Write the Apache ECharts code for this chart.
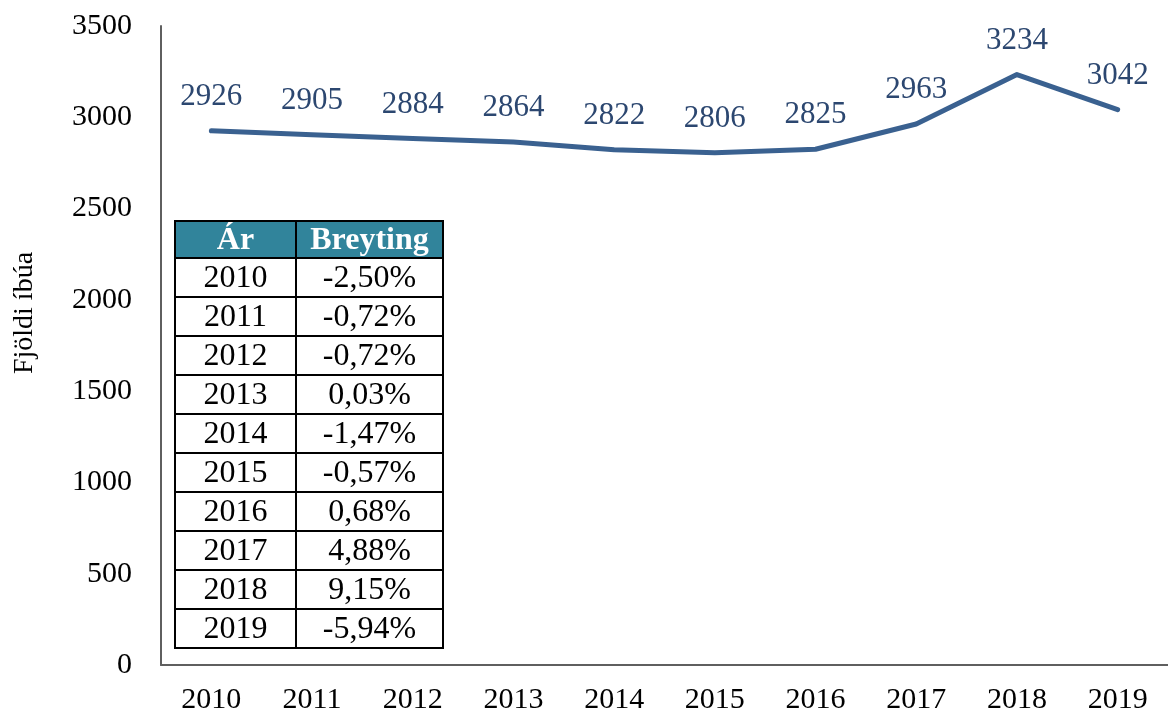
<!DOCTYPE html>
<html>
<head>
<meta charset="utf-8">
<script src="https://cdn.jsdelivr.net/npm/echarts@6/dist/echarts.min.js"></script>
<style>
	html, body { margin: 0; padding: 0; background: #fff; }
	#chart { width: 1168px; height: 717px; }
</style>
</head>
<body>
<div id="chart"></div>
<script>
// gögn
const years = ['2010', '2011', '2012', '2013', '2014', '2015', '2016', '2017', '2018', '2019']
const residents = [2926, 2905, 2884, 2864, 2822, 2806, 2825, 2963, 3234, 3042]
const changes = ['-2,50%', '-0,72%', '-0,72%', '0,03%', '-1,47%', '-0,57%', '0,68%', '4,88%', '9,15%', '-5,94%']
const tableHead = ['Ár', 'Breyting']

const FONT = '"Liberation Serif", "Times New Roman", serif'

var myChart = echarts.init(document.getElementById('chart'))

// tafla ofan á grafinu
const tbl = { x: 175, y: 221, colW: [121, 147], headH: 37, rowH: 39 }
const tableGraphic = []
const totalW = tbl.colW[0] + tbl.colW[1]
const totalH = tbl.headH + tbl.rowH * years.length

tableGraphic.push({
	type: 'rect',
	shape: { x: tbl.x, y: tbl.y, width: totalW, height: tbl.headH },
	style: { fill: '#31849b' },
})
tableHead.forEach(function (h, i) {
	const cx = tbl.x + (i === 0 ? tbl.colW[0] / 2 : tbl.colW[0] + tbl.colW[1] / 2)
	tableGraphic.push({
		type: 'text',
		x: cx,
		y: tbl.y + tbl.headH / 2 + 1,
		style: {
			text: h,
			fill: '#fff',
			font: 'bold 32px ' + FONT,
			textAlign: 'center',
			textVerticalAlign: 'middle',
		},
	})
})
years.forEach(function (yr, r) {
	const cy = tbl.y + tbl.headH + tbl.rowH * r + tbl.rowH / 2 + 1
	;[yr, changes[r]].forEach(function (t, i) {
		tableGraphic.push({
			type: 'text',
			x: tbl.x + (i === 0 ? tbl.colW[0] / 2 : tbl.colW[0] + tbl.colW[1] / 2),
			y: cy,
			style: {
				text: t,
				fill: '#000',
				font: '32px ' + FONT,
				textAlign: 'center',
				textVerticalAlign: 'middle',
			},
		})
	})
	// lína undir hverri línu
	tableGraphic.push({
		type: 'line',
		shape: { x1: tbl.x, y1: tbl.y + tbl.headH + tbl.rowH * r, x2: tbl.x + totalW, y2: tbl.y + tbl.headH + tbl.rowH * r },
		style: { stroke: '#000', lineWidth: 2 },
	})
})
tableGraphic.push({
	type: 'line',
	shape: { x1: tbl.x + tbl.colW[0], y1: tbl.y, x2: tbl.x + tbl.colW[0], y2: tbl.y + totalH },
	style: { stroke: '#000', lineWidth: 2 },
})
tableGraphic.push({
	type: 'rect',
	shape: { x: tbl.x, y: tbl.y, width: totalW, height: totalH },
	style: { fill: 'none', stroke: '#000', lineWidth: 2 },
})

// heiti y-áss
tableGraphic.push({
	type: 'text',
	x: 25,
	y: 313,
	rotation: Math.PI / 2,
	style: {
		text: 'Fjöldi íbúa',
		fill: '#000',
		font: '28px ' + FONT,
		textAlign: 'center',
		textVerticalAlign: 'middle',
	},
})

var option = {
	animation: false,
	grid: { left: 161, right: -6, top: 26, bottom: 52, containLabel: false },
	xAxis: {
		type: 'category',
		data: years,
		boundaryGap: true,
		axisTick: { show: false },
		axisLine: { lineStyle: { color: '#5f5f5f', width: 2 } },
		axisLabel: { color: '#000', fontFamily: FONT, fontSize: 30, margin: 20 },
	},
	yAxis: {
		type: 'value',
		min: 0,
		max: 3500,
		interval: 500,
		splitLine: { show: false },
		axisTick: { show: false },
		axisLine: { show: true, lineStyle: { color: '#5f5f5f', width: 2 } },
		axisLabel: {
			color: '#000',
			fontFamily: FONT,
			fontSize: 30,
			margin: 29,
			formatter: function (v) {
				return String(v)
			},
		},
	},
	series: [
		{
			type: 'line',
			data: residents,
			symbol: 'circle',
			symbolSize: 1,
			showSymbol: true,
			itemStyle: { color: '#3a6190' },
			lineStyle: { color: '#3a6190', width: 5, cap: 'round', join: 'round' },
			label: {
				show: true,
				position: 'top',
				distance: 18,
				color: '#2c4770',
				fontFamily: FONT,
				fontSize: 31,
			},
		},
	],
	graphic: tableGraphic,
}

option && myChart.setOption(option)
</script>
</body>
</html>
